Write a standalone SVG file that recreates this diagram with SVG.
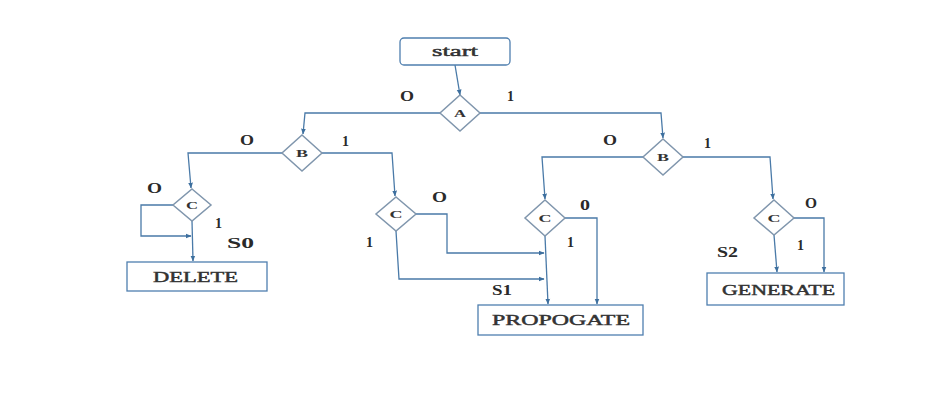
<svg xmlns="http://www.w3.org/2000/svg" width="937" height="401" viewBox="0 0 937 401">
  <defs>
    <marker id="arrow" viewBox="0 0 10 10" refX="9" refY="5" markerWidth="6" markerHeight="6" orient="auto-start-reverse" markerUnits="userSpaceOnUse">
      <path d="M0,1 L10,5 L0,9 z" fill="#3d6f9e"/>
    </marker>
    <style>
      .bg { fill: #ffffff; }
      .box { fill: #ffffff; stroke: #4f7faf; stroke-width: 1.3; }
      .dia { fill: #ffffff; stroke: #8096ad; stroke-width: 1.5; }
      .edge { fill: none; stroke: #4a7aa8; stroke-width: 1.3; }
      .edge.arr { marker-end: url(#arrow); }
      .name { font-family: "Liberation Serif", serif; font-size: 14px; fill: #333; stroke: #333; stroke-width: 0.45; }
      .dlab { font-family: "Liberation Serif", serif; font-size: 11px; fill: #333; text-anchor: middle; font-weight: bold; }
      .lab { font-family: "Liberation Serif", serif; font-size: 14px; fill: #2a2a2a; font-weight: bold; }
    </style>
  </defs>

  <rect class="bg" x="0" y="0" width="937" height="401"/>

  <!-- connectors -->
  <g id="connectors">
    <!-- start -> A -->
    <path class="edge arr" d="M455,65 L460,95"/>
    <!-- A 0 -> left B -->
    <path class="edge arr" d="M440,113 L305,113 L303,134"/>
    <!-- A 1 -> right B -->
    <path class="edge arr" d="M480,113 L661,113 L663,138"/>
    <!-- left B 0 -> C (delete) -->
    <path class="edge arr" d="M283,153 L188,153 L191,188"/>
    <!-- left B 1 -> C (middle) -->
    <path class="edge arr" d="M322,153 L392,153 L395,196"/>
    <!-- delete C self-loop on 0 -->
    <path class="edge arr" d="M173,205 L141,205 L141,236 L191,236"/>
    <!-- delete C 1 -> DELETE -->
    <path class="edge arr" d="M192,221 L193,261"/>
    <!-- middle C 0 -> propagate column -->
    <path class="edge arr" d="M416,214 L447,214 L447,253 L544,253"/>
    <!-- middle C 1 -> propagate column -->
    <path class="edge arr" d="M396,231 L399,279 L544,279"/>
    <!-- right-side C 1 -> PROPOGATE -->
    <path class="edge arr" d="M545,236 L548,304"/>
    <!-- right-side C 0 -> PROPOGATE -->
    <path class="edge arr" d="M565,218 L597,218 L597,304"/>
    <!-- right B 0 -> C -->
    <path class="edge arr" d="M644,157 L542,157 L545,199"/>
    <!-- right B 1 -> C -->
    <path class="edge arr" d="M682,157 L770,157 L773,199"/>
    <!-- generate C 1 -> GENERATE -->
    <path class="edge arr" d="M774,235 L777,272"/>
    <!-- generate C 0 -> GENERATE -->
    <path class="edge arr" d="M794,218 L824,218 L824,272"/>
  </g>

  <!-- nodes -->
  <g id="start">
    <rect class="box" x="400" y="38" width="110" height="27" rx="4"/>
    <text class="name" x="432" y="56" font-size="13" textLength="46" lengthAdjust="spacingAndGlyphs">start</text>
  </g>
  <g id="A">
    <polygon class="dia" points="460,95 480,113 460,131 440,113"/>
    <text class="dlab" x="460" y="117" textLength="12" lengthAdjust="spacingAndGlyphs">A</text>
  </g>
  <g id="B-left">
    <polygon class="dia" points="302,135 322,153 302,171 282,153"/>
    <text class="dlab" x="302" y="157" textLength="12" lengthAdjust="spacingAndGlyphs">B</text>
  </g>
  <g id="B-right">
    <polygon class="dia" points="663,139 683,157 663,175 643,157"/>
    <text class="dlab" x="663" y="161" textLength="12" lengthAdjust="spacingAndGlyphs">B</text>
  </g>
  <g id="C-delete">
    <polygon class="dia" points="192,189 211,205 192,221 173,205"/>
    <text class="dlab" x="192" y="209" font-size="12" textLength="12" lengthAdjust="spacingAndGlyphs">C</text>
  </g>
  <g id="C-middle">
    <polygon class="dia" points="396,197 416,214 396,231 376,214"/>
    <text class="dlab" x="396" y="218" font-size="12" textLength="13" lengthAdjust="spacingAndGlyphs">C</text>
  </g>
  <g id="C-propagate">
    <polygon class="dia" points="545,200 565,218 545,236 525,218"/>
    <text class="dlab" x="545" y="222" font-size="12" textLength="13" lengthAdjust="spacingAndGlyphs">C</text>
  </g>
  <g id="C-generate">
    <polygon class="dia" points="774,200 794,218 774,235 754,218"/>
    <text class="dlab" x="774" y="222" font-size="12" textLength="13" lengthAdjust="spacingAndGlyphs">C</text>
  </g>
  <g id="DELETE">
    <rect class="box" x="127" y="262" width="140" height="29"/>
    <text class="name" x="153" y="282" textLength="85" lengthAdjust="spacingAndGlyphs">DELETE</text>
  </g>
  <g id="PROPOGATE">
    <rect class="box" x="478" y="305" width="165" height="30"/>
    <text class="name" x="492" y="325" textLength="138" lengthAdjust="spacingAndGlyphs">PROPOGATE</text>
  </g>
  <g id="GENERATE">
    <rect class="box" x="707" y="273" width="137" height="32"/>
    <text class="name" x="722" y="295" textLength="113" lengthAdjust="spacingAndGlyphs">GENERATE</text>
  </g>

  <!-- branch labels -->
  <g id="labels">
    <text class="lab" x="400" y="101" textLength="14" lengthAdjust="spacingAndGlyphs">O</text>
    <text class="lab" x="507" y="101">1</text>
    <text class="lab" x="240" y="145" textLength="14" lengthAdjust="spacingAndGlyphs">O</text>
    <text class="lab" x="342" y="146">1</text>
    <text class="lab" x="147" y="193" font-size="16" textLength="15" lengthAdjust="spacingAndGlyphs">O</text>
    <text class="lab" x="215" y="228">1</text>
    <text class="lab" x="227" y="248" textLength="27" lengthAdjust="spacingAndGlyphs">S0</text>
    <text class="lab" x="432" y="202" textLength="15" lengthAdjust="spacingAndGlyphs">O</text>
    <text class="lab" x="366" y="247">1</text>
    <text class="lab" x="492" y="295" textLength="20" lengthAdjust="spacingAndGlyphs">S1</text>
    <text class="lab" x="580" y="210" font-size="11" textLength="10" lengthAdjust="spacingAndGlyphs">0</text>
    <text class="lab" x="567" y="247">1</text>
    <text class="lab" x="603" y="145" textLength="14" lengthAdjust="spacingAndGlyphs">O</text>
    <text class="lab" x="704" y="148">1</text>
    <text class="lab" x="805" y="208" textLength="12" lengthAdjust="spacingAndGlyphs">O</text>
    <text class="lab" x="797" y="250">1</text>
    <text class="lab" x="717" y="257" textLength="21" lengthAdjust="spacingAndGlyphs">S2</text>
  </g>
</svg>
